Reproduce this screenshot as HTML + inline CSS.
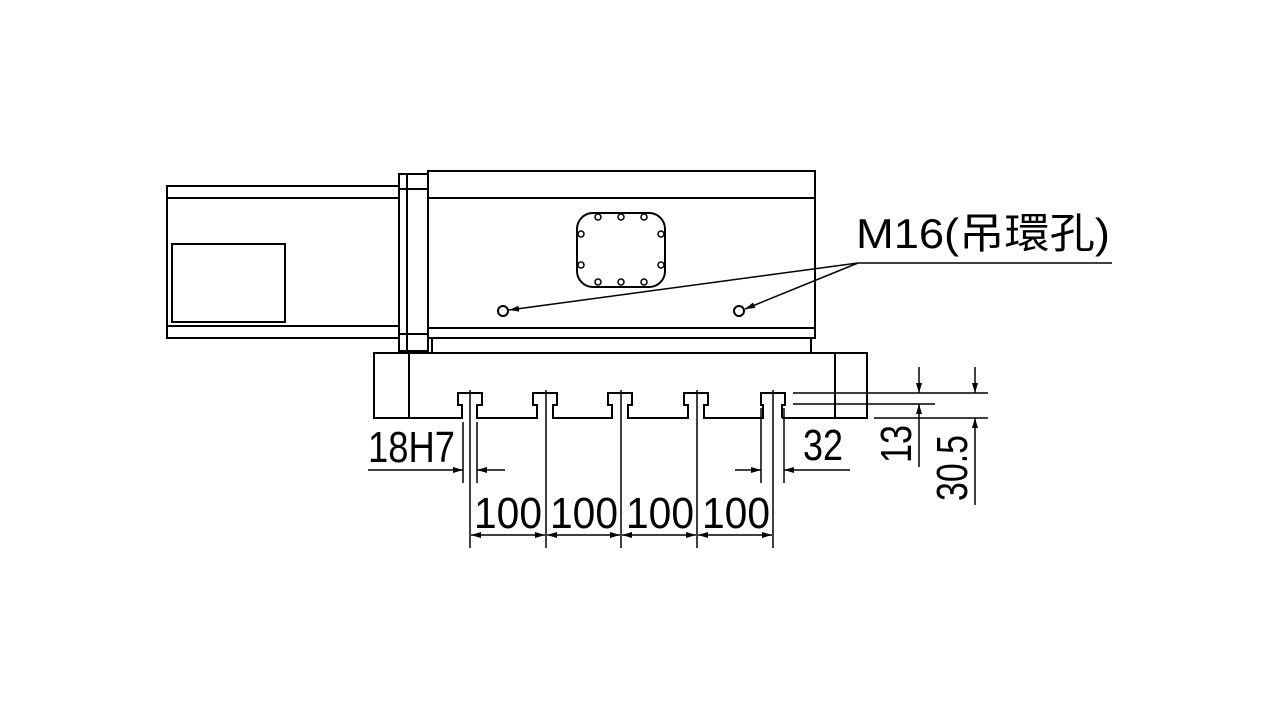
<!DOCTYPE html>
<html><head><style>body{margin:0;background:#fff}svg{display:block}</style></head><body>
<svg width="1280" height="720" viewBox="0 0 1280 720" xmlns="http://www.w3.org/2000/svg">
<defs><marker id="a" viewBox="0 0 10 6" refX="10" refY="3" markerWidth="10" markerHeight="6" orient="auto-start-reverse" markerUnits="userSpaceOnUse"><path d="M0,0L10,3L0,6z" fill="#000"/></marker></defs>
<g fill="none" stroke="#000" stroke-width="2">
<!-- left arm -->
<rect x="167" y="186" width="232" height="152"/>
<line x1="167" y1="198" x2="399" y2="198"/><line x1="167" y1="326" x2="399" y2="326"/>
<rect x="172" y="244" width="113" height="78"/>
<!-- flange -->
<rect x="399" y="174" width="29" height="177"/>
<line x1="407" y1="174" x2="407" y2="351"/>
<line x1="399" y1="189" x2="428" y2="189"/><line x1="399" y1="334" x2="428" y2="334"/>
<!-- main body -->
<rect x="428" y="171" width="387" height="167"/>
<line x1="428" y1="198" x2="815" y2="198"/><line x1="428" y1="328" x2="815" y2="328"/>
<polyline points="432,338 432,353 811,353 811,338"/>
<rect x="577" y="213" width="88" height="74" rx="16"/>
<circle cx="503" cy="311" r="5"/><circle cx="739" cy="311" r="5"/>
<!-- base -->
<polyline points="458,418 374,418 374,353 867,353 867,418 782,418"/>
<line x1="409" y1="353" x2="409" y2="418"/><line x1="835" y1="353" x2="835" y2="418"/>
</g>
<g fill="none" stroke="#000" stroke-width="1.5">
<circle cx="598" cy="217" r="3"/><circle cx="621" cy="217" r="3"/><circle cx="644" cy="217" r="3"/>
<circle cx="598" cy="282" r="3"/><circle cx="621" cy="282" r="3"/><circle cx="644" cy="282" r="3"/>
<circle cx="581" cy="234" r="3"/><circle cx="581" cy="265" r="3"/><circle cx="661" cy="234" r="3"/><circle cx="661" cy="265" r="3"/>
</g>
<g fill="none" stroke="#000" stroke-width="2">
<path d="M458,418 L462,418 L462,405 L458,405 L458,393 L482,393 L482,405 L477,405 L477,418 L533,418 L537,418 L537,405 L533,405 L533,393 L557,393 L557,405 L553,405 L553,418 L608,418 L612,418 L612,405 L608,405 L608,393 L632,393 L632,405 L628,405 L628,418 L684,418 L688,418 L688,405 L684,405 L684,393 L708,393 L708,405 L704,405 L704,418 L760,418 L763,418 L763,405 L761,405 L761,393 L785,393 L785,405 L782,405 L782,418"/>
</g>
<g stroke="#000" stroke-width="1.5" fill="none">
<line x1="470" y1="390" x2="470" y2="548"/><line x1="546" y1="390" x2="546" y2="548"/><line x1="621" y1="390" x2="621" y2="548"/><line x1="697" y1="390" x2="697" y2="548"/><line x1="773" y1="390" x2="773" y2="548"/>
<line x1="463" y1="422" x2="463" y2="483"/><line x1="477" y1="422" x2="477" y2="483"/>
<line x1="368" y1="470" x2="463" y2="470" marker-end="url(#a)"/><line x1="505" y1="470" x2="477" y2="470" marker-end="url(#a)"/>
<line x1="471" y1="535" x2="545" y2="535" marker-start="url(#a)" marker-end="url(#a)"/>
<line x1="547" y1="535" x2="620" y2="535" marker-start="url(#a)" marker-end="url(#a)"/>
<line x1="622" y1="535" x2="696" y2="535" marker-start="url(#a)" marker-end="url(#a)"/>
<line x1="698" y1="535" x2="772" y2="535" marker-start="url(#a)" marker-end="url(#a)"/>
<line x1="761" y1="408" x2="761" y2="483"/><line x1="784" y1="408" x2="784" y2="483"/>
<line x1="735" y1="470" x2="761" y2="470" marker-end="url(#a)"/><line x1="850" y1="470" x2="784" y2="470" marker-end="url(#a)"/>
<line x1="793" y1="393" x2="988" y2="393"/><line x1="793" y1="404" x2="935" y2="404"/><line x1="874" y1="418" x2="988" y2="418"/>
<line x1="919" y1="367" x2="919" y2="393" marker-end="url(#a)"/><line x1="919" y1="467" x2="919" y2="404" marker-end="url(#a)"/>
<line x1="975" y1="367" x2="975" y2="393" marker-end="url(#a)"/><line x1="975" y1="505" x2="975" y2="418" marker-end="url(#a)"/>
<line x1="858" y1="263" x2="1112" y2="263"/>
<line x1="858" y1="263" x2="509" y2="310" marker-end="url(#a)"/>
<line x1="858" y1="263" x2="745" y2="309" marker-end="url(#a)"/>
</g>
<g font-family="Liberation Sans, DejaVu Sans, sans-serif" fill="#000">
<text x="368" y="462" font-size="44" textLength="87" lengthAdjust="spacingAndGlyphs">18H7</text>
<text x="474" y="528" font-size="44" textLength="68" lengthAdjust="spacingAndGlyphs">100</text>
<text x="550" y="528" font-size="44" textLength="68" lengthAdjust="spacingAndGlyphs">100</text>
<text x="626" y="528" font-size="44" textLength="68" lengthAdjust="spacingAndGlyphs">100</text>
<text x="702" y="528" font-size="44" textLength="68" lengthAdjust="spacingAndGlyphs">100</text>
<text x="803" y="460" font-size="44" textLength="40" lengthAdjust="spacingAndGlyphs">32</text>
<text transform="translate(911,463) rotate(-90)" font-size="44" textLength="38" lengthAdjust="spacingAndGlyphs">13</text>
<text transform="translate(967,501) rotate(-90)" font-size="44" textLength="66" lengthAdjust="spacingAndGlyphs">30.5</text>
<text x="856" y="248" font-size="42" font-family="Liberation Sans, Noto Sans CJK TC, sans-serif" textLength="254" lengthAdjust="spacingAndGlyphs">M16(吊環孔)</text>
</g>
</svg>
</body></html>
